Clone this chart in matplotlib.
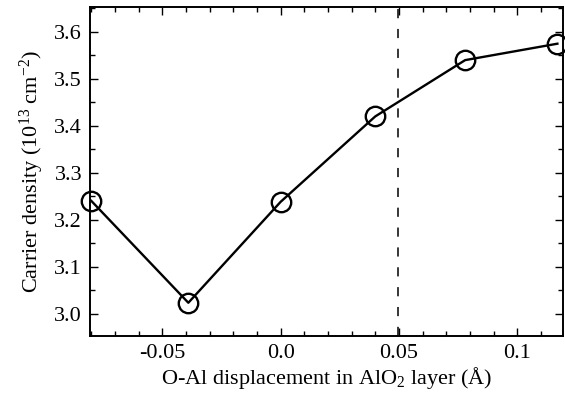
import matplotlib
matplotlib.use('Agg')
import matplotlib.pyplot as plt
from matplotlib.ticker import MultipleLocator, FixedLocator

plt.rcParams['font.family'] = 'Liberation Serif'
plt.rcParams['mathtext.fontset'] = 'custom'
plt.rcParams['mathtext.rm'] = 'Liberation Serif'
plt.rcParams['mathtext.it'] = 'Liberation Serif:italic'

# data
displacement = [-0.08, -0.039, 0.0, 0.04, 0.078, 0.117]
carrier_density = [3.24, 3.023, 3.238, 3.42, 3.54, 3.575]
dashed_x = 0.0495

x_ticks = [-0.05, 0.0, 0.05, 0.1]
x_tick_labels = ['-0.05', '0.0', '0.05', '0.1']

fig, ax = plt.subplots(figsize=(5.65, 3.94), dpi=100)
fig.subplots_adjust(left=0.16, right=0.997, top=0.982, bottom=0.147)

ax.plot(displacement, carrier_density, color='black', lw=1.7, marker='o',
        ms=14, mfc='none', mec='black', mew=1.7, clip_on=False, zorder=3)
ax.axvline(dashed_x, color='black', lw=1.1, ls=(0, (6, 7)))

ax.set_xlim(-0.0804, 0.1195)
ax.set_ylim(2.952, 3.653)

ax.xaxis.set_major_locator(FixedLocator(x_ticks))
ax.set_xticklabels(x_tick_labels)
ax.xaxis.set_minor_locator(MultipleLocator(0.01))
ax.yaxis.set_major_locator(MultipleLocator(0.1))
ax.yaxis.set_minor_locator(MultipleLocator(0.05))

ax.tick_params(which='both', direction='in', top=True, right=True, labelsize=16, width=1.0)
ax.tick_params(which='major', length=6, pad=6)
ax.tick_params(which='minor', length=3.5)
for sp in ax.spines.values():
    sp.set_linewidth(1.4)

ax.set_xlabel('O-Al displacement in AlO$_2$ layer (Å)', fontsize=16, labelpad=1)
ax.set_ylabel('Carrier density (10$^{13}$ cm$^{-2}$)', fontsize=16, labelpad=6)

plt.savefig('out.png', dpi=100)
plt.close()
